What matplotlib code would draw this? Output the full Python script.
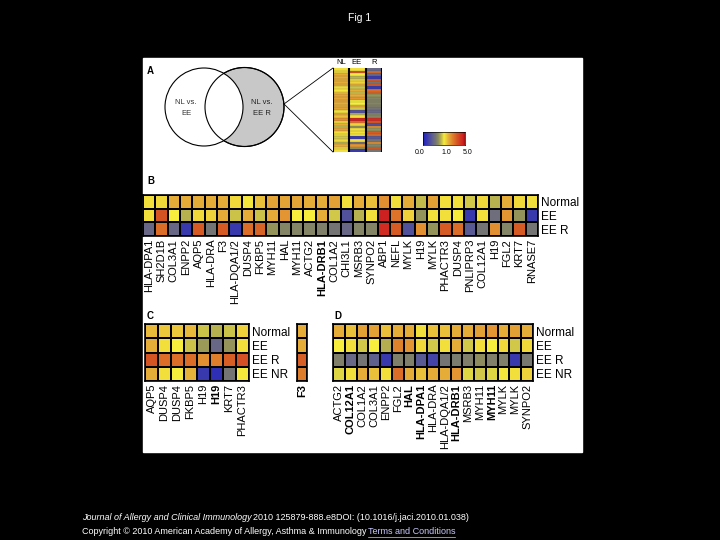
import numpy as np
import matplotlib
matplotlib.use('Agg')
import matplotlib.pyplot as plt
from matplotlib.colors import LinearSegmentedColormap, TwoSlopeNorm
from matplotlib.patches import Circle, Rectangle

plt.rcParams['font.family'] = ['Liberation Sans', 'DejaVu Sans']

W, H = 720, 540

# fold change vs. normal (1.0 = unchanged)
b_genes = ['HLA-DPA1', 'SH2D1B', 'COL3A1', 'ENPP2', 'AQP5', 'HLA-DRA', 'F3', 'HLA-DQA1/2',
           'DUSP4', 'FKBP5', 'MYH11', 'HAL', 'MYH11', 'ACTG2', 'HLA-DRB1', 'COL1A2',
           'CHI3L1', 'MSRB3', 'SYNPO2', 'ABP1', 'NEFL', 'MYLK', 'H19', 'MYLK',
           'PHACTR3', 'DUSP4', 'PNLIPRP3', 'COL12A1', 'H19', 'FGL2', 'KRT7', 'RNASE7']
b_normal = [1.2, 1.3, 1.9, 1.9, 1.9, 1.9, 1.9, 1.3, 1.1, 1.6, 2.0, 2.0, 2.0, 1.9, 1.9, 2.1,
            1.2, 1.9, 1.6, 2.4, 1.2, 1.9, 0.88, 2.1, 1.2, 1.2, 0.92, 1.3, 0.85, 1.9, 1.3, 1.2]
b_ee = [1.2, 3.5, 1.0, 0.85, 1.3, 1.4, 1.9, 0.9, 1.9, 0.9, 1.9, 2.3, 1.0, 1.0, 1.9, 0.92,
        0.35, 0.85, 1.2, 4.6, 2.9, 1.4, 0.75, 1.2, 1.2, 1.05, 0.2, 1.2, 0.55, 2.3, 0.75, 0.2]
b_eer = [0.5, 3.0, 0.5, 0.2, 3.4, 0.6, 3.4, 0.2, 3.0, 3.2, 0.75, 0.68, 0.68, 0.68, 0.66, 0.6,
         0.5, 0.68, 0.68, 4.4, 3.4, 0.35, 2.4, 0.75, 3.4, 3.0, 0.4, 0.6, 2.4, 0.68, 3.4, 0.6]
b_bold = ['HLA-DRB1']

c_genes = ['AQP5', 'DUSP4', 'DUSP4', 'FKBP5', 'H19', 'H19', 'KRT7', 'PHACTR3']
c_normal = [1.7, 1.5, 1.5, 1.7, 0.9, 0.85, 0.9, 1.4]
c_ee = [1.9, 1.2, 1.0, 0.9, 0.78, 0.5, 0.75, 1.2]
c_eer = [3.5, 3.0, 3.0, 3.0, 2.4, 2.7, 3.3, 3.6]
c_eenr = [1.9, 1.2, 1.0, 1.8, 0.2, 0.12, 0.6, 1.05]
f3_vals = [1.9, 1.9, 3.3, 2.7]

d_genes = ['ACTG2', 'COL12A1', 'COL1A2', 'COL3A1', 'ENPP2', 'FGL2', 'HAL', 'HLA-DPA1',
           'HLA-DRA', 'HLA-DQA1/2', 'HLA-DRB1', 'MSRB3', 'MYH11', 'MYH11', 'MYLK', 'MYLK', 'SYNPO2']
d_normal = [1.9, 1.6, 2.1, 2.1, 1.6, 1.9, 1.9, 1.2, 1.6, 1.6, 1.9, 1.9, 2.1, 2.3, 1.9, 2.1, 1.9]
d_ee = [1.0, 1.2, 0.92, 1.0, 0.84, 2.6, 2.3, 1.3, 0.92, 1.2, 1.9, 0.92, 1.2, 1.0, 1.3, 0.92, 1.3]
d_eer = [0.66, 0.5, 0.6, 0.45, 0.2, 0.66, 0.66, 0.4, 0.25, 0.6, 0.64, 0.66, 0.72, 0.66, 0.66, 0.2, 0.62]
d_eenr = [0.95, 1.2, 1.9, 1.6, 1.2, 3.0, 1.9, 1.6, 1.9, 1.9, 2.3, 0.95, 0.92, 0.95, 1.1, 1.2, 1.4]
d_bold = [1, 6, 7, 10, 13]

cmap = LinearSegmentedColormap.from_list('fc', [
    (0.0, '#2020c0'), (0.1, '#3a3aae'), (0.25, '#686886'), (0.3, '#747474'),
    (0.375, '#92925a'), (0.46, '#d2c848'), (0.5, '#f6ee3c'), (0.6, '#e6b23a'),
    (0.72, '#de7a2a'), (0.8, '#d65a24'), (0.95, '#d02222'), (1.0, '#a01414')])
norm = TwoSlopeNorm(vmin=0.0, vcenter=1.0, vmax=5.0)

fig = plt.figure(figsize=(W / 100, H / 100), dpi=100, facecolor='black')


def px_axes(x0, y0, x1, y1):
    return fig.add_axes([x0 / W, 1 - y1 / H, (x1 - x0) / W, (y1 - y0) / H])


def heat(x0, y0, x1, y1, rows, cols, rowlabels=None, bold=()):
    ax = px_axes(x0, y0, x1, y1)
    data = np.array(rows)
    ax.pcolormesh(data, cmap=cmap, norm=norm, edgecolors='black', linewidth=1.2)
    ax.set_xlim(0, data.shape[1])
    ax.set_ylim(data.shape[0], 0)
    ax.set_xticks(np.arange(data.shape[1]) + 0.5, cols, rotation=90, fontsize=8)
    for i, t in enumerate(ax.get_xticklabels()):
        if i in bold:
            t.set_fontweight('bold')
    ax.tick_params(axis='x', length=0, pad=2)
    if rowlabels:
        ax.yaxis.tick_right()
        ax.set_yticks(np.arange(data.shape[0]) + 0.5, rowlabels, fontsize=8.5)
        ax.tick_params(axis='y', length=0, pad=2.5)
    else:
        ax.set_yticks([])
    for s in ax.spines.values():
        s.set_linewidth(1.2)
    return ax


# background layer in pixel units
ov = fig.add_axes([0, 0, 1, 1])
ov.set_xlim(0, W)
ov.set_ylim(H, 0)
ov.axis('off')
ov.add_patch(Rectangle((143, 58), 439, 394, color='white'))
ov.text(360, 18, 'Fig 1', color='white', fontsize=7.5, ha='center', va='center')

# panel A venn
ov.add_patch(Circle((244.5, 107), 39.5, fc='#c8c8c8', ec='black', lw=0.8, zorder=2))
ov.add_patch(Circle((204, 107), 39, fc='white', ec='black', lw=0.8, zorder=3))
ov.add_patch(Circle((244.5, 107), 39.5, fc='none', ec='black', lw=0.8, zorder=4))
ov.text(186, 108, 'NL vs.\nEE', fontsize=5.5, ha='center', va='center', color='#333333',
        linespacing=1.7, zorder=5)
ov.text(262, 108, 'NL vs.\nEE R', fontsize=5.5, ha='center', va='center', color='#222222',
        linespacing=1.7, zorder=5)
ov.plot([284, 333], [104, 68], color='black', lw=0.6)
ov.plot([284, 333], [104, 152], color='black', lw=0.6)

for lab, (x, y) in zip('ABCD', [(147, 71), (147, 181), (147, 316), (334, 316)]):
    ov.text(x, y, lab, fontsize=7, fontweight='bold', ha='left', va='center')

for lab, x in zip(['NL', 'EE', 'R'], [341, 357, 374]):
    ov.text(x, 63, lab, fontsize=5.5, ha='center', va='center')

# zoomed strip of panel A
sa = px_axes(333, 68, 382, 152)
strip = np.array([b_normal, b_ee, b_eer]).T
sa.pcolormesh(strip, cmap=cmap, norm=norm)
sa.set_xlim(0, 3)
sa.set_ylim(strip.shape[0], 0)
for y in range(1, strip.shape[0]):
    sa.axhline(y, color='#404040', lw=0.25, alpha=0.6)
for x in range(4):
    sa.axvline(x, color='black', lw=1.5)
sa.set_xticks([])
sa.set_yticks([])
for s in sa.spines.values():
    s.set_visible(False)

# colour key
ca = px_axes(423, 132, 465, 145)
ca.imshow(np.linspace(0, 1, 256)[None, :], cmap=cmap, aspect='auto')
ca.set_xticks([])
ca.set_yticks([])
for s in ca.spines.values():
    s.set_linewidth(0.5)
for lab, x in zip(['0.0', '1.0', '5.0'], [420, 446, 468]):
    ov.text(x, 152, lab, fontsize=5, ha='center', va='center')

# panel B
heat(143, 195, 538, 236, [b_normal, b_ee, b_eer], b_genes, ['Normal', 'EE', 'EE R'],
     bold=[b_genes.index(g) for g in b_bold])

# panel C
heat(145, 324, 249, 381, [c_normal, c_ee, c_eer, c_eenr], c_genes,
     ['Normal', 'EE', 'EE R', 'EE NR'], bold=[5])
heat(297, 324, 307, 381, [[v] for v in f3_vals], ['F3'], bold=[0])

# panel D
heat(333, 324, 533, 381, [d_normal, d_ee, d_eer, d_eenr], d_genes,
     ['Normal', 'EE', 'EE R', 'EE NR'], bold=d_bold)

# footer
fs = 6.5
fx, fy = 82 / W, 1 - 518 / H
t1 = fig.text(fx, fy, 'Journal of Allergy and Clinical Immunology', color='white',
              fontsize=fs, style='italic', va='center')
r = fig.canvas.get_renderer()
bb = t1.get_window_extent(r)
fig.text(bb.x1 / W + 0.002, fy, '2010 125879-888.e8DOI: (10.1016/j.jaci.2010.01.038)',
         color='white', fontsize=fs, va='center')
t3 = fig.text(fx, 1 - 532 / H, 'Copyright \u00a9 2010 American Academy of Allergy, Asthma & Immunology',
              color='white', fontsize=fs, va='center')
bb = t3.get_window_extent(r)
t4 = fig.text(bb.x1 / W + 0.002, 1 - 532 / H, 'Terms and Conditions', color='#c8c8ff',
              fontsize=fs, va='center')
bb4 = t4.get_window_extent(r)
fig.add_artist(plt.Line2D([bb4.x0 / W, bb4.x1 / W], [bb4.y0 / H, bb4.y0 / H],
                          color='#c8c8ff', lw=0.5))

fig.savefig('out.png', dpi=100, facecolor='black')
